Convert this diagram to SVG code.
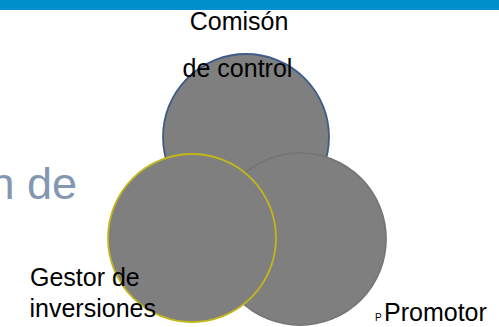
<svg xmlns="http://www.w3.org/2000/svg" width="499" height="327" viewBox="0 0 499 327">
<style>
.lbl{font-family:"Liberation Sans",Arial,sans-serif;font-size:25px;fill:#000}
.circ{fill:#7f7f7f;stroke-width:1.8}
</style>
<rect x="0" y="0" width="499" height="327" fill="#ffffff"/>
<rect x="0" y="0" width="499" height="10" fill="#0091cd"/>
<text x="77" y="199" text-anchor="end" font-family="Liberation Sans,Arial,sans-serif" font-size="45" fill="#8497b0">n de</text>
<g id="comision">
<circle class="circ" cx="246" cy="137" r="83" stroke="#3e5b8a"/>
</g>
<g id="promotor">
<circle class="circ" cx="300" cy="239" r="86" stroke="#767676"/>
</g>
<g id="gestor">
<circle class="circ" cx="192" cy="238" r="84" stroke="#c2b61b"/>
</g>
<g id="connectors"></g>
<g id="labels">
<text class="lbl" x="239" y="30" text-anchor="middle">Comisón</text>
<text class="lbl" x="237.5" y="77" text-anchor="middle">de control</text>
<text class="lbl" x="30" y="286">Gestor de</text>
<text class="lbl" x="29.5" y="317">inversiones</text>
<text x="375" y="321" font-family="Liberation Sans,Arial,sans-serif" font-size="10" fill="#000">P</text>
<text class="lbl" x="384" y="321">Promotor</text>
</g>
</svg>
